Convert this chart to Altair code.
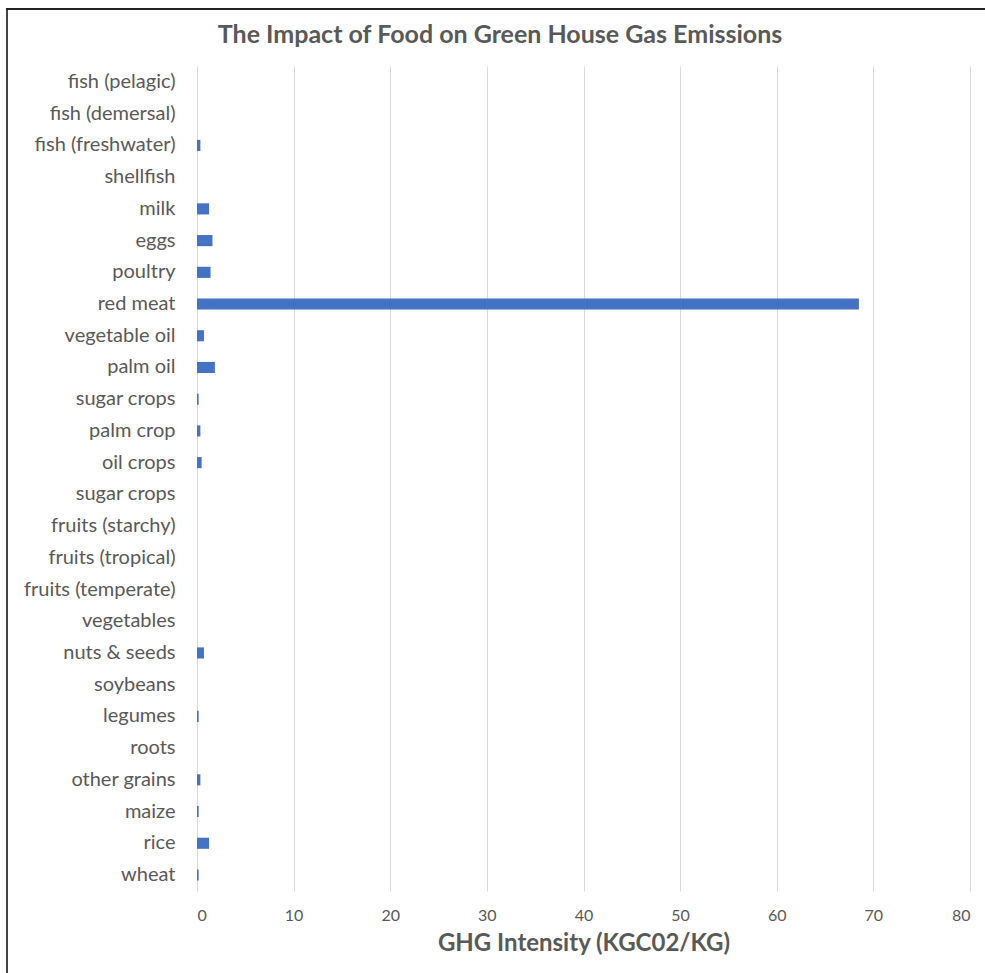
import altair as alt
import pandas as pd

categories = [
    "fish (pelagic)", "fish (demersal)", "fish (freshwater)", "shellfish",
    "milk", "eggs", "poultry", "red meat", "vegetable oil", "palm oil",
    "sugar crops", "palm crop", "oil crops", "sugar crops", "fruits (starchy)",
    "fruits (tropical)", "fruits (temperate)", "vegetables", "nuts & seeds",
    "soybeans", "legumes", "roots", "other grains", "maize", "rice", "wheat",
]
values = [
    0, 0, 0.35, 0,
    1.25, 1.6, 1.4, 68.5, 0.72, 1.85,
    0.17, 0.35, 0.48, 0, 0,
    0, 0, 0, 0.72,
    0, 0.17, 0, 0.35, 0.17, 1.25, 0.17,
]
x_ticks = [0, 10, 20, 30, 40, 50, 60, 70, 80]
title_text = "The Impact of Food on Green House Gas Emissions"

df = pd.DataFrame({
    "key": [f"{i:02d}|{c}" for i, c in enumerate(categories)],
    "value": values,
})

FONT = "Lato"
GRAY = "#595959"

bars = alt.Chart(df).mark_bar(color="#4472C4").encode(
    y=alt.Y(
        "key:N", sort=None,
        scale=alt.Scale(paddingInner=0.65, paddingOuter=0.33),
        axis=alt.Axis(
            title=None, labelExpr="split(datum.label, '|')[1]",
            labelFont=FONT, labelFontSize=20, labelColor=GRAY,
            ticks=False, domain=False, labelPadding=22, labelLimit=300,
        ),
    ),
    x=alt.X(
        "value:Q",
        scale=alt.Scale(domain=[0, 80], nice=False),
        axis=alt.Axis(
            values=x_ticks, title="GHG Intensity (KGC02/KG)",
            titleFont=FONT, titleFontSize=24, titleColor=GRAY, titleFontWeight="bold",
            titlePadding=8,
            labelFont=FONT, labelFontSize=16, labelColor=GRAY, labelPadding=16,
            ticks=False, domain=False, grid=True, gridColor="#D9D9D9", gridWidth=1,
        ),
    ),
)

frame_df = pd.DataFrame({"a": [0]})
frame_left = alt.Chart(frame_df).mark_rule(color="#444444", strokeWidth=2).encode(
    x=alt.value(-190), y=alt.value(-57), y2=alt.value(920)
)
frame_top = alt.Chart(frame_df).mark_rule(color="#222222", strokeWidth=2).encode(
    x=alt.value(-191), x2=alt.value(800), y=alt.value(-57)
)
title = alt.Chart(frame_df).mark_text(
    font=FONT, fontSize=25, fontWeight="bold", color=GRAY,
    align="center", baseline="middle",
).encode(x=alt.value(303), y=alt.value(-31), text=alt.value(title_text))

chart = alt.layer(bars, frame_left, frame_top, title).properties(
    width=773,
    height=825,
    padding={"left": 197, "top": 66, "right": 15, "bottom": 82},
    autosize=alt.AutoSizeParams(type="none"),
    background="white",
).configure_view(strokeOpacity=0, strokeWidth=0)

chart.save("out.html", embed_options={"renderer": "svg", "actions": False})
